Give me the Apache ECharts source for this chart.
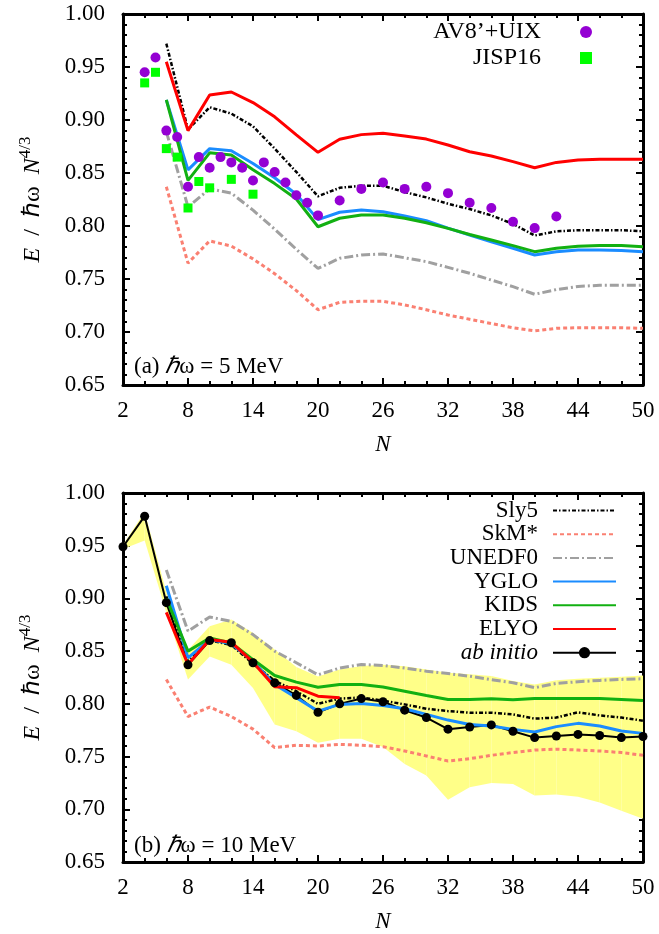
<!DOCTYPE html>
<html>
<head>
<meta charset="utf-8">
<script src="https://cdn.jsdelivr.net/npm/echarts@6/dist/echarts.min.js"></script>
<style>html,body{margin:0;padding:0;background:#fff}#c{width:659px;height:934px}</style>
</head>
<body>
<div id="c"></div>
<script>
// ---------- Panel (a): ħω = 5 MeV ----------
const nAv8 = [4,5,6,7,8,9,10,11,12,13,14,15,16,17,18,19,20,22,24,26,28,30,32,34,36,38,40,42];
const av8Uix = [0.945,0.959,0.890,0.884,0.837,0.865,0.855,0.865,0.860,0.855,0.843,0.860,0.851,0.841,0.829,0.822,0.810,0.824,0.835,0.841,0.835,0.837,0.831,0.822,0.817,0.804,0.798,0.809];
const nJisp = [4,5,6,7,8,9,10,12,14];
const jisp16 = [0.935,0.945,0.873,0.865,0.817,0.842,0.836,0.844,0.830];

const nLines = [6,8,10,12,14,16,18,20,22,24,26,28,30,32,34,36,38,40,42,44,46,48,50];
const sly5A  = [0.972,0.891,0.912,0.906,0.894,0.873,0.851,0.828,0.836,0.838,0.838,0.832,0.827,0.821,0.816,0.810,0.802,0.791,0.795,0.796,0.796,0.796,0.795];
const skmA   = [0.837,0.765,0.786,0.781,0.769,0.755,0.739,0.721,0.728,0.729,0.729,0.7255,0.721,0.716,0.712,0.708,0.704,0.701,0.7035,0.704,0.704,0.704,0.7035];
const unedfA = [0.889,0.818,0.835,0.831,0.815,0.797,0.778,0.760,0.7695,0.7726,0.7736,0.770,0.7664,0.761,0.7554,0.749,0.7428,0.7356,0.740,0.743,0.744,0.744,0.744];
const ygloA  = [0.919,0.853,0.873,0.871,0.859,0.8455,0.830,0.806,0.813,0.815,0.8135,0.8094,0.805,0.798,0.7915,0.785,0.779,0.7726,0.7758,0.7773,0.7773,0.777,0.7758];
const kidsA  = [0.919,0.843,0.869,0.867,0.853,0.840,0.8255,0.7993,0.8073,0.8104,0.8104,0.8073,0.803,0.7978,0.792,0.7868,0.7815,0.7758,0.779,0.781,0.7815,0.7815,0.7805];
const elyoA  = [0.955,0.890,0.9236,0.9264,0.9164,0.903,0.886,0.8695,0.8818,0.8862,0.8875,0.885,0.882,0.8764,0.870,0.866,0.8607,0.855,0.860,0.8623,0.863,0.863,0.863];

// ---------- Panel (b): ħω = 10 MeV ----------
const nAb = [2,4,6,8,10,12,14,16,18,20,22,24,26,28,30,32,34,36,38,40,42,44,46,48,50];
const abInitio = [0.949,0.978,0.896,0.837,0.860,0.858,0.839,0.820,0.808,0.792,0.800,0.805,0.802,0.794,0.787,0.776,0.778,0.780,0.774,0.768,0.7695,0.771,0.770,0.768,0.769];
const bandLow  = [0.947,0.955,0.887,0.823,0.845,0.837,0.815,0.7805,0.774,0.763,0.767,0.767,0.759,0.743,0.732,0.709,0.721,0.725,0.724,0.713,0.714,0.712,0.7065,0.6986,0.691];
const bandHigh = [0.951,0.982,0.906,0.851,0.8735,0.880,0.8673,0.8515,0.835,0.826,0.8326,0.836,0.837,0.8357,0.8326,0.8295,0.828,0.8264,0.8216,0.8184,0.8225,0.8238,0.8247,0.8257,0.827];

const sly5B  = [0.902,0.840,0.860,0.856,0.838,0.822,0.812,0.800,0.805,0.806,0.803,0.7995,0.7954,0.7931,0.7916,0.7916,0.790,0.786,0.787,0.792,0.789,0.787,0.784];
const skmB   = [0.823,0.788,0.797,0.788,0.776,0.7585,0.7607,0.760,0.7616,0.7607,0.7594,0.7553,0.7506,0.7458,0.748,0.7512,0.7538,0.7562,0.757,0.7562,0.7553,0.7538,0.7512];
const unedfB = [0.927,0.869,0.8824,0.8783,0.8657,0.850,0.839,0.8275,0.834,0.8373,0.8364,0.834,0.831,0.8288,0.8262,0.823,0.820,0.8153,0.8194,0.821,0.8222,0.8232,0.8238];
const ygloB  = [0.912,0.8436,0.861,0.857,0.8404,0.8184,0.8058,0.7931,0.7995,0.8004,0.7985,0.7954,0.790,0.7846,0.7805,0.779,0.7758,0.7733,0.7784,0.7815,0.779,0.7742,0.772];
const kidsB  = [0.900,0.850,0.8625,0.8578,0.842,0.8269,0.8206,0.8158,0.8184,0.8184,0.816,0.812,0.808,0.8042,0.8042,0.8048,0.804,0.8051,0.805,0.805,0.805,0.8042,0.8032];
const nElyoB = [6,8,10,12,14,16,18,20,22];
const elyoB  = [0.8868,0.8373,0.861,0.8584,0.8395,0.8162,0.8153,0.8073,0.8058];

// ---------- helpers ----------
const FONT = "'Liberation Serif','Times New Roman',serif";
const zip = (xs, ys) => xs.map((x, i) => [x, ys[i]]);

function xAx(gi, pos, labels) {
  return {
    type: 'value', gridIndex: gi, position: pos, min: 2, max: 50, interval: 6,
    axisLine: {show: true, onZero: false, lineStyle: {color: '#000', width: 3}},
    axisTick: {show: true, inside: true, length: 7, lineStyle: {color: '#000', width: 2}},
    minorTick: {show: true, splitNumber: 3, length: 4, lineStyle: {color: '#000', width: 2}},
    splitLine: {show: false}, minorSplitLine: {show: false},
    axisLabel: {show: labels, margin: 14, color: '#000', fontFamily: FONT, fontSize: 23},
    name: labels ? 'N' : '', nameLocation: 'middle', nameGap: 48,
    nameTextStyle: {fontFamily: FONT, fontSize: 23, fontStyle: 'italic', color: '#000'}
  };
}
function yAx(gi, pos, labels) {
  return {
    type: 'value', gridIndex: gi, position: pos, min: 0.65, max: 1.0, interval: 0.05,
    axisLine: {show: true, onZero: false, lineStyle: {color: '#000', width: 3}},
    axisTick: {show: true, inside: true, length: 7, lineStyle: {color: '#000', width: 2}},
    minorTick: {show: true, splitNumber: 5, length: 4, lineStyle: {color: '#000', width: 2}},
    splitLine: {show: false}, minorSplitLine: {show: false},
    axisLabel: {show: labels, margin: 18, color: '#000', fontFamily: FONT, fontSize: 23,
                formatter: v => v.toFixed(2)},
    name: labels ? '{i|E}  {n|/}  {n|ℏω}  {i|N}{s|4/3}' : '', nameLocation: 'middle', nameGap: 78, nameRotate: 90,
    nameTextStyle: {fontFamily: FONT, fontSize: 24, color: '#000',
      rich: {
        i: {fontFamily: FONT, fontSize: 24, fontStyle: 'italic', color: '#000', verticalAlign: 'bottom', lineHeight: 28},
        n: {fontFamily: FONT, fontSize: 24, color: '#000', verticalAlign: 'bottom', lineHeight: 28},
        s: {fontFamily: FONT, fontSize: 17, color: '#000', verticalAlign: 'top', lineHeight: 17}
      }}
  };
}

const C = {
  sly5: '#000000', skm: '#fa8072', unedf: '#a0a0a0', yglo: '#1a8cff', kids: '#12b012', elyo: '#ff0000',
  av8: '#9400d3', jisp: '#00ff00', band: '#ffff88'
};
const lineSeries = (name, xi, yi, xs, ys, color, type, width, z) => ({
  name, type: 'line', xAxisIndex: xi, yAxisIndex: yi, data: zip(xs, ys),
  symbol: 'none', showSymbol: false, z: z || 3,
  lineStyle: {color, width: width || 3, type: type || 'solid'}, itemStyle: {color}
});

const sly5Dash = [4, 2, 1.5, 2];
const skmDash = [4, 3];
const unedfDash = [9, 3, 2, 3];

const series = [
  // panel (a)
  lineSeries('SkM*', 0, 0, nLines, skmA, C.skm, skmDash, 3),
  lineSeries('UNEDF0', 0, 0, nLines, unedfA, C.unedf, unedfDash, 3),
  lineSeries('Sly5', 0, 0, nLines, sly5A, C.sly5, sly5Dash, 2.5),
  lineSeries('YGLO', 0, 0, nLines, ygloA, C.yglo, 'solid', 3),
  lineSeries('KIDS', 0, 0, nLines, kidsA, C.kids, 'solid', 3),
  lineSeries('ELYO', 0, 0, nLines, elyoA, C.elyo, 'solid', 3),
  {name: 'AV8’+UIX', type: 'scatter', xAxisIndex: 0, yAxisIndex: 0, data: zip(nAv8, av8Uix),
   symbol: 'circle', symbolSize: 10, itemStyle: {color: C.av8, opacity: 1}, z: 5},
  {name: 'JISP16', type: 'scatter', xAxisIndex: 0, yAxisIndex: 0, data: zip(nJisp, jisp16),
   symbol: 'rect', symbolSize: 9, itemStyle: {color: C.jisp, opacity: 1}, z: 5},
  // panel (b): uncertainty band
  {name: 'band', type: 'custom', xAxisIndex: 2, yAxisIndex: 2, z: 1,
   data: nAb.map((n, i) => [n, bandLow[i], bandHigh[i]]),
   encode: {x: 0, y: [1, 2]},
   renderItem: function (params, api) {
     const i = params.dataIndex;
     if (i >= nAb.length - 1) return null;
     const pts = [
       api.coord([nAb[i], bandLow[i]]), api.coord([nAb[i + 1], bandLow[i + 1]]),
       api.coord([nAb[i + 1], bandHigh[i + 1]]), api.coord([nAb[i], bandHigh[i]])
     ];
     return {type: 'polygon', shape: {points: pts}, style: {fill: C.band, stroke: null}};
   }},
  lineSeries('SkM*', 2, 2, nLines, skmB, C.skm, skmDash, 3),
  lineSeries('UNEDF0', 2, 2, nLines, unedfB, C.unedf, unedfDash, 3),
  {name: 'ab initio', type: 'line', xAxisIndex: 2, yAxisIndex: 2, data: zip(nAb, abInitio),
   symbol: 'circle', symbolSize: 9, showSymbol: true, z: 3,
   lineStyle: {color: '#000', width: 2}, itemStyle: {color: '#000'}},
  lineSeries('Sly5', 2, 2, nLines, sly5B, C.sly5, sly5Dash, 2.5),
  lineSeries('YGLO', 2, 2, nLines, ygloB, C.yglo, 'solid', 3),
  lineSeries('KIDS', 2, 2, nLines, kidsB, C.kids, 'solid', 3),
  lineSeries('ELYO', 2, 2, nElyoB, elyoB, C.elyo, 'solid', 3)
];

const noSym = name => ({name, itemStyle: {opacity: 0, color: 'rgba(0,0,0,0)', borderWidth: 0}});

const chart = echarts.init(document.getElementById('c'), null, {renderer: 'canvas'});
chart.setOption({
  animation: false,
  backgroundColor: '#fff',
  grid: [
    {left: 123, top: 14, width: 520, height: 371, show: false},
    {left: 123, top: 493, width: 520, height: 370, show: false}
  ],
  xAxis: [xAx(0, 'bottom', true), xAx(0, 'top', false), xAx(1, 'bottom', true), xAx(1, 'top', false)],
  yAxis: [yAx(0, 'left', true), yAx(0, 'right', false), yAx(1, 'left', true), yAx(1, 'right', false)],
  legend: [
    {orient: 'vertical', align: 'right', right: 67, top: 20, padding: 0, itemGap: 2,
     itemWidth: 12, itemHeight: 12, selectedMode: false,
     textStyle: {fontFamily: FONT, fontSize: 24, color: '#000', lineHeight: 22, padding: [0, 34, 0, 0]},
     data: ['AV8’+UIX', 'JISP16']},
    {orient: 'vertical', align: 'right', right: 42, top: 499, padding: 0, itemGap: 0.7,
     itemWidth: 63, itemHeight: 14, selectedMode: false,
     textStyle: {fontFamily: FONT, fontSize: 23, color: '#000', lineHeight: 22, padding: [0, 10, 0, 0]},
     data: [noSym('Sly5'), noSym('SkM*'), noSym('UNEDF0'), noSym('YGLO'), noSym('KIDS'), noSym('ELYO'),
            {name: 'ab initio', textStyle: {fontStyle: 'italic'}}]}
  ],
  graphic: [
    {type: 'text', left: 134, top: 355, z: 10,
     style: {text: '(a) {h|ℏ}ω = 5 MeV', font: "23px 'Liberation Serif', serif", fill: '#000',
             rich: {h: {fontFamily: FONT, fontSize: 23, fontStyle: 'italic', fill: '#000'}}}},
    {type: 'text', left: 134, top: 834, z: 10,
     style: {text: '(b) {h|ℏ}ω = 10 MeV', font: "23px 'Liberation Serif', serif", fill: '#000',
             rich: {h: {fontFamily: FONT, fontSize: 23, fontStyle: 'italic', fill: '#000'}}}}
  ],
  series
});
</script>
</body>
</html>
